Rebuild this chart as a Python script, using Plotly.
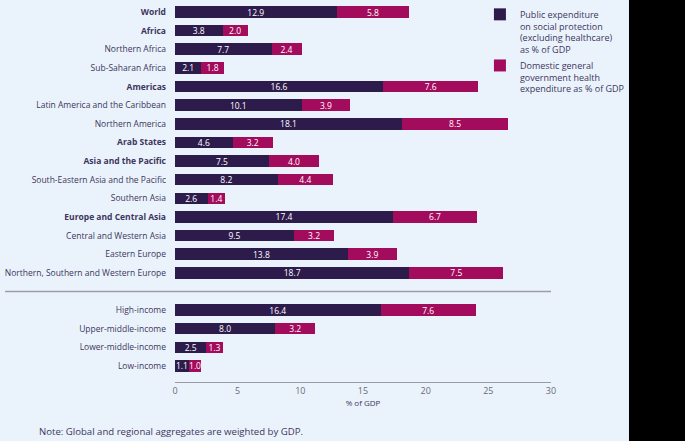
import plotly.graph_objects as go

region_labels = ["World", "Africa", "Northern Africa", "Sub-Saharan Africa", "Americas",
                 "Latin America and the Caribbean", "Northern America", "Arab States",
                 "Asia and the Pacific", "South-Eastern Asia and the Pacific", "Southern Asia",
                 "Europe and Central Asia", "Central and Western Asia", "Eastern Europe",
                 "Northern, Southern and Western Europe"]
region_social = [12.9, 3.8, 7.7, 2.1, 16.6, 10.1, 18.1, 4.6, 7.5, 8.2, 2.6, 17.4, 9.5, 13.8, 18.7]
region_health = [5.8, 2.0, 2.4, 1.8, 7.6, 3.9, 8.5, 3.2, 4.0, 4.4, 1.4, 6.7, 3.2, 3.9, 7.5]
bold_labels = ["World", "Africa", "Americas", "Arab States", "Asia and the Pacific",
               "Europe and Central Asia"]

income_labels = ["High-income", "Upper-middle-income", "Lower-middle-income", "Low-income"]
income_social = [16.4, 8.0, 2.5, 1.1]
income_health = [7.6, 3.2, 1.3, 1.0]

x_ticks = [0, 5, 10, 15, 20, 25, 30]

NAVY = "#2c1b4b"
MAGENTA = "#a30b5c"
BG = "#eaf3fb"
TEXT = "#3d3560"

labels = region_labels + income_labels
social = region_social + income_social
health = region_health + income_health
ypos = list(range(len(region_labels))) + [len(region_labels) + 1 + i for i in range(len(income_labels))]
sep_pos = len(region_labels)

ticktext = [f"<b>{l}</b>" if l in bold_labels else l for l in labels]

fig = go.Figure()
fig.add_trace(go.Bar(
    y=ypos, x=social, orientation="h", width=0.62,
    marker=dict(color=NAVY, line=dict(width=0)),
    name="Public expenditure<br>on social protection<br>(excluding healthcare)<br>as % of GDP",
    text=[f"{v:.1f}" for v in social], textposition="inside", insidetextanchor="middle",
    textangle=0, constraintext="none",
    textfont=dict(color="white", size=8.5, family="Open Sans"),
    legend="legend", showlegend=True, hoverinfo="skip"))
fig.add_trace(go.Bar(
    y=ypos, x=health, orientation="h", width=0.62,
    marker=dict(color=MAGENTA, line=dict(width=0)),
    name="Domestic general<br>government health<br>expenditure as % of GDP",
    text=[f"{v:.1f}" for v in health], textposition="inside", insidetextanchor="middle",
    textangle=0, constraintext="none",
    textfont=dict(color="white", size=8.5, family="Open Sans"),
    legend="legend2", showlegend=True, hoverinfo="skip"))

fig.update_layout(
    barmode="stack",
    width=685, height=441,
    showlegend=True,
    margin=dict(l=175, r=134, t=2, b=59),
    paper_bgcolor=BG, plot_bgcolor=BG,
    font=dict(family="Open Sans", color=TEXT, size=9),
    xaxis=dict(range=[0, 30], tickvals=x_ticks, showgrid=False, zeroline=False,
               showline=True, linecolor="#9a9aa6", linewidth=1, automargin=False,
               tickfont=dict(size=9, color="#6b6b78"),
               title=dict(text="% of GDP", font=dict(size=8, color=TEXT), standoff=4)),
    yaxis=dict(range=[19.86, -0.537], tickvals=ypos, ticktext=ticktext, showgrid=False,
               zeroline=False, showline=False, ticks="", ticklabelstandoff=8,
               automargin=False, tickfont=dict(size=8.5, color=TEXT)),
    legend=dict(x=0.811, y=1.0, xanchor="left", yanchor="top", valign="top",
                bgcolor="rgba(0,0,0,0)", font=dict(size=9, color=TEXT)),
    legend2=dict(x=0.811, y=0.8655, xanchor="left", yanchor="top", valign="top",
                 bgcolor="rgba(0,0,0,0)", font=dict(size=9, color=TEXT)),
    shapes=[
        dict(type="line", xref="paper", yref="y", x0=-0.452, x1=1.0, y0=sep_pos, y1=sep_pos,
             line=dict(color="#9c9cab", width=1.5)),
        dict(type="rect", xref="paper", yref="paper", x0=1.2074, x1=1.6, y0=-1, y1=2,
             fillcolor="black", line=dict(width=0), layer="above"),
    ],
    annotations=[
        dict(text="Note: Global and regional aggregates are weighted by GDP.",
             xref="paper", yref="paper", x=-0.367, y=-0.129, xanchor="left", yanchor="middle",
             showarrow=False, font=dict(size=9.6, color=TEXT)),
    ],
)

fig.write_html("out.html", config={"displayModeBar": False},
               post_script="document.body.style.margin='0';")
